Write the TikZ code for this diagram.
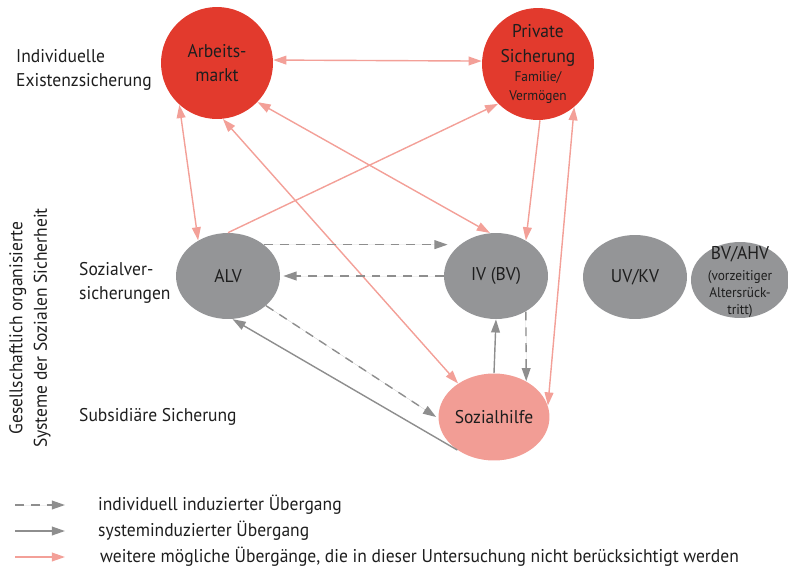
\documentclass[tikz,border=0pt]{standalone}
\usepackage{fontspec}
\setmainfont{PT Sans}[FakeStretch=0.95]
\usepackage{xcolor}
\usetikzlibrary{arrows.meta}
\usetikzlibrary{shapes.geometric}
\usetikzlibrary{positioning}
\definecolor{rotkreis}{RGB}{226,58,45}
\definecolor{rosakreis}{RGB}{242,157,149}
\definecolor{grauoval}{RGB}{148,149,151}
\definecolor{pfeilrot}{RGB}{243,160,152}
\definecolor{pfeilgrau}{RGB}{142,142,142}
\definecolor{schrift}{RGB}{30,30,30}

\begin{document}
\begin{tikzpicture}[x=0.02cm, y=-0.02cm,
    font=\fontsize{10.5}{14}\selectfont, text=schrift,
    rotkr/.style={circle, fill=rotkreis, minimum size=2.24cm, inner sep=0pt, align=center},
    oval/.style={ellipse, fill=grauoval, minimum width=2.08cm, minimum height=1.72cm, inner sep=0pt, align=center},
    spitze/.style={-{Triangle[length=7.5pt,width=5pt]}},
    rotpf/.style={draw=pfeilrot, fill=pfeilrot, line width=0.8pt, {Triangle[length=7.5pt,width=5pt]}-{Triangle[length=7.5pt,width=5pt]}},
    rotein/.style={draw=pfeilrot, fill=pfeilrot, line width=0.8pt, spitze},
    indiv/.style={draw=pfeilgrau, fill=pfeilgrau, line width=0.8pt, dash pattern=on 5pt off 4pt, spitze},
    system/.style={draw=pfeilgrau, fill=pfeilgrau, line width=0.8pt, spitze}]
  \useasboundingbox (0,0) rectangle (788,575);

  % Ebenen links
  \node[anchor=west, align=left] (ebene1) at (10,70) {Individuelle\\Existenzsicherung};
  \node[anchor=west, align=left] (ebene2) at (73,283) {Sozialver-\\sicherungen};
  \node[anchor=west] (ebene3) at (73,417) {Subsidiäre Sicherung};
  \node[rotate=90, align=center] (gesell) at (30,328) {Gesellschaftlich organisierte\\Systeme der Sozialen Sicherheit};

  % Kreise und Ovale
  \node[rotkr] (arbeit) at (217,63) {Arbeits-\\markt};
  \node[rotkr] (privat) at (538,64) {Private\\Sicherung\\[-3pt]{\fontsize{8}{10}\selectfont Familie/}\\[-3pt]{\fontsize{8}{10}\selectfont Vermögen}};
  \node[oval] (alv) at (228,276) {ALV};
  \node[oval] (iv) at (496,276) {IV (BV)};
  \node[oval, minimum height=1.68cm] (uvkv) at (635,277) {UV/KV};
  \node[oval, minimum width=1.96cm, minimum height=1.52cm] (bvahv) at (740,280) {};
  \node[align=center, font=\fontsize{10.5}{12}\selectfont] at (740,254) {BV/AHV};
  \node[align=center, font=\fontsize{8}{9.5}\selectfont] at (740,294) {(vorzeitiger\\Altersrück-\\tritt)};
  \node[ellipse, fill=rosakreis, minimum width=1.94cm, minimum height=1.74cm, inner sep=0pt] (sozhilfe) at (494,417) {Sozialhilfe};

  % weitere Uebergaenge (rot)
  \draw[rotpf] (arbeit.3) -- (privat.177);
  \draw[rotpf] (arbeit.228) -- (alv.130);
  \draw[rotpf] (arbeit.-44) -- (iv.98);
  \draw[rotpf] (arbeit.-84) -- (sozhilfe.137);
  \draw[rotpf] (sozhilfe.12) -- (privat.-50);
  \draw[rotein] (alv.north) -- (privat.225);
  \draw[rotein] (privat.-88) -- (iv.50);

  % individuell induziert
  \draw[indiv] (alv.41) -- ([xshift=0.08cm]alv.41 -| iv.west);
  \draw[indiv] (iv.west) -- ([xshift=0.06cm]alv.east);
  \draw[indiv] (alv.-38) -- ([xshift=-0.04cm]sozhilfe.west);
  \draw[indiv] (iv.-50) -- (sozhilfe.48);

  % systeminduziert
  \draw[system] (sozhilfe.north) -- (iv.south);
  \draw[system] (sozhilfe.222) -- (alv.-84);

  % Legende
  \coordinate (l1a) at (15,505); \coordinate (l1b) at (65,505);
  \coordinate (l2a) at (15,531); \coordinate (l2b) at (65,531);
  \coordinate (l3a) at (15,557); \coordinate (l3b) at (65,557);
  \draw[indiv] (l1a) -- (l1b);
  \draw[system] (l2a) -- (l2b);
  \draw[rotein] (l3a) -- (l3b);
  \node[anchor=west] (leg1) at (92,505) {individuell induzierter Übergang};
  \node[anchor=west] (leg2) at (92,531) {systeminduzierter Übergang};
  \node[anchor=west] (leg3) at (94,557) {weitere mögliche Übergänge, die in dieser Untersuchung nicht berücksichtigt werden};
\end{tikzpicture}
\end{document}
